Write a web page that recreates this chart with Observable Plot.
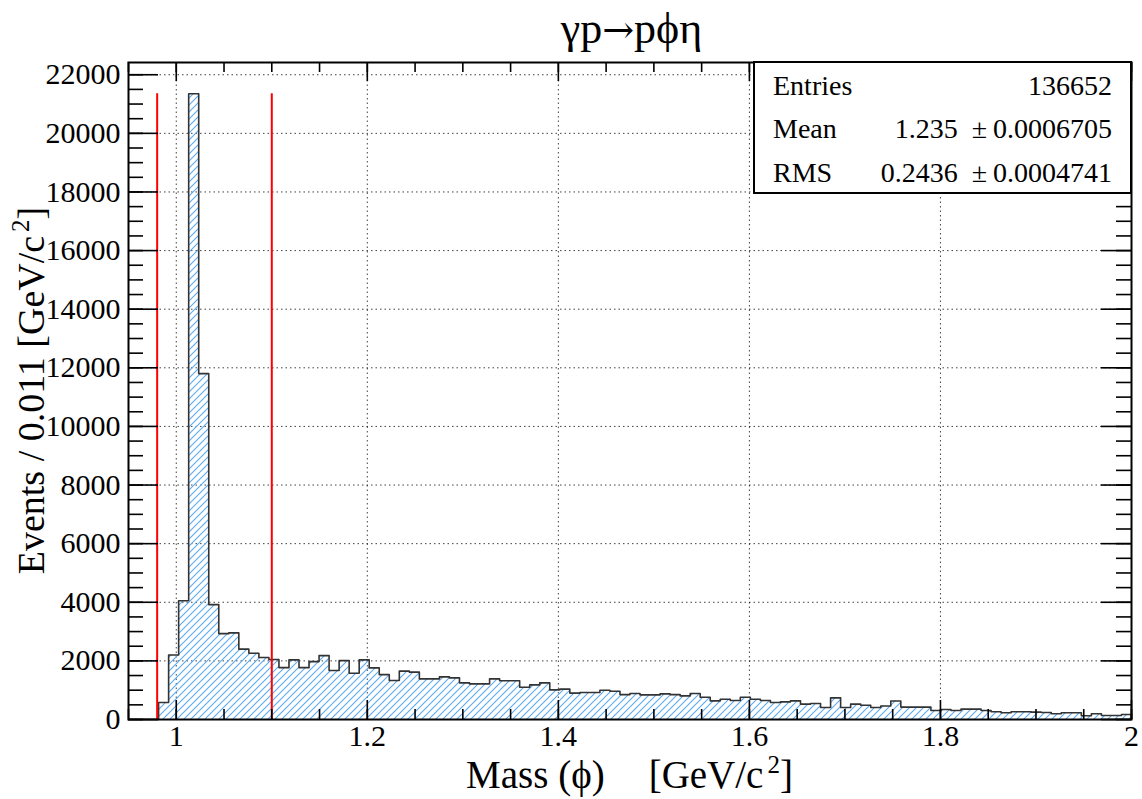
<!DOCTYPE html>
<html><head><meta charset="utf-8">
<script src="https://cdn.jsdelivr.net/npm/d3@7"></script>
<script src="https://cdn.jsdelivr.net/npm/@observablehq/plot@0.6"></script>
<style>
html,body{margin:0;padding:0;background:#fff;}
#chart svg{display:block;}
</style></head><body><div id="chart"></div>
<script>
// ---- data ----
const binLow = 0.95, binHigh = 2.0;
const counts = [0,0,0,580,2200,4050,21350,11800,3920,2930,
  2955,2400,2260,2115,2045,1770,2035,1770,1975,2180,
  1670,2010,1580,2035,1760,1530,1330,1650,1615,1385,
  1385,1455,1420,1250,1215,1215,1385,1320,1320,1100,
  1180,1250,1010,1035,900,920,920,1000,965,850,
  885,840,840,875,850,805,885,760,636,693,
  648,761,693,648,579,602,636,523,545,409,
  738,409,523,488,409,460,630,423,423,423,
  309,343,309,354,354,309,263,229,263,263,
  250,240,194,229,229,126,194,137,137,171];
const cutLines = [0.98, 1.1];
const xMajor = [1, 1.2, 1.4, 1.6, 1.8, 2];
const xTickLabels = ["1", "1.2", "1.4", "1.6", "1.8", "2"];
const yMajor = [0,2000,4000,6000,8000,10000,12000,14000,16000,18000,20000,22000];
const yTickLabels = yMajor.map(String);
const statsLabels = ["Entries", "Mean", "RMS"];
const statsMain = ["136652", "1.235", "0.2436"];
const statsErr = [null, "0.0006705", "0.0004741"];

// ---- layout ----
const W = 1142, H = 799;
const M = {top: 62, right: 11, bottom: 80, left: 128};
const fw = W - M.left - M.right, fh = H - M.top - M.bottom;
const yMax = d3.max(counts) * 1.05;
const FONT = "'Liberation Serif', 'Times New Roman', serif";

const nb = counts.length, bw = (binHigh - binLow) / nb;
const outline = counts.map((c, i) => ({x: binLow + i * bw, y: c}));
outline.push({x: binHigh, y: counts[nb - 1]}, {x: binHigh, y: 0});
const peak = d3.max(counts);
const xMinor = d3.range(0, 22).map(i => +(binLow + i * 0.05).toFixed(3)).filter(d => d <= binHigh);
const yMinor = d3.range(0, 45).map(i => i * 500);

const chart = Plot.plot({
  width: W, height: H,
  marginTop: M.top, marginRight: M.right, marginBottom: M.bottom, marginLeft: M.left,
  x: {domain: [binLow, binHigh], axis: null},
  y: {domain: [0, yMax], axis: null},
  style: {fontFamily: FONT, background: "white", color: "black"},
  marks: [
    Plot.ruleY(yMajor.filter(d => d > 0), {y: d => d, stroke: "#000", strokeOpacity: 0.75, strokeDasharray: "1.5,3", strokeWidth: 1}),
    Plot.ruleX(xMajor.filter(d => d < binHigh), {x: d => d, stroke: "#000", strokeOpacity: 0.75, strokeDasharray: "1.5,3", strokeWidth: 1}),
    Plot.areaY(outline, {x: "x", y: "y", curve: "step-after", fill: "url(#hatch)"}),
    Plot.line(outline, {x: "x", y: "y", curve: "step-after", stroke: "#333", strokeWidth: 1.6}),
    Plot.ruleX(cutLines, {x: d => d, y1: 0, y2: peak, stroke: "#ff0000", strokeWidth: 2}),
    // ticks (inside the frame, ROOT style)
    Plot.tickY(yMajor, {y: d => d, insetRight: fw - 30, stroke: "#000", strokeWidth: 1.6}),
    Plot.tickY(yMinor, {y: d => d, insetRight: fw - 15, stroke: "#000", strokeWidth: 1.6}),
    Plot.tickY(yMajor, {y: d => d, insetLeft: fw - 30, stroke: "#000", strokeWidth: 1.6}),
    Plot.tickY(yMinor, {y: d => d, insetLeft: fw - 15, stroke: "#000", strokeWidth: 1.6}),
    Plot.tickX(xMajor, {x: d => d, insetTop: fh - 19, stroke: "#000", strokeWidth: 1.6}),
    Plot.tickX(xMinor, {x: d => d, insetTop: fh - 10, stroke: "#000", strokeWidth: 1.6}),
    Plot.tickX(xMajor, {x: d => d, insetBottom: fh - 19, stroke: "#000", strokeWidth: 1.6}),
    Plot.tickX(xMinor, {x: d => d, insetBottom: fh - 10, stroke: "#000", strokeWidth: 1.6}),
    Plot.frame({stroke: "#000", strokeWidth: 2}),
    // tick labels
    Plot.text(yMajor, {y: d => d, text: (d, i) => yTickLabels[i], frameAnchor: "left", dx: -8, textAnchor: "end", fontSize: 30, fill: "#000"}),
    Plot.text(xMajor, {x: d => d, text: (d, i) => xTickLabels[i], frameAnchor: "bottom", dy: 26, fontSize: 30, fill: "#000"})
  ]
});

document.getElementById("chart").appendChild(chart);
const svg = d3.select(chart);

// hatch pattern (ROOT fill style 3004-like)
const defs = svg.insert("defs", ":first-child");
const pat = defs.append("pattern").attr("id", "hatch").attr("patternUnits", "userSpaceOnUse")
  .attr("width", 7).attr("height", 7);
pat.append("path").attr("d", "M-2,2 L2,-2 M0,7 L7,0 M5,9 L9,5")
  .attr("stroke", "#5aa9f4").attr("stroke-width", 1.1).attr("fill", "none");

// title
const tt = svg.append("text").attr("x", M.left + fw / 2 + 2).attr("y", 43).attr("text-anchor", "middle")
  .attr("font-family", FONT).attr("font-size", 44);
tt.append("tspan").text("\u03b3p");
tt.append("tspan").attr("font-family", "'DejaVu Serif', serif").attr("font-size", 38).text("\u2192");
tt.append("tspan").text("p\u03d5\u03b7");

// x axis title
const xt = svg.append("text").attr("x", M.left + fw / 2).attr("y", 788).attr("text-anchor", "middle")
  .attr("font-family", FONT).attr("font-size", 39);
xt.append("tspan").text("Mass (\u03d5)");
xt.append("tspan").attr("dx", 44).text("[GeV/c");
xt.append("tspan").attr("dx", 4).attr("dy", -15).attr("font-size", 25).text("2");
xt.append("tspan").attr("dy", 15).text("]");

// y axis title
const yt = svg.append("text").attr("transform", `translate(44,${M.top + fh / 2}) rotate(-90)`)
  .attr("text-anchor", "middle").attr("font-family", FONT).attr("font-size", 38);
yt.append("tspan").text("Events / 0.011 [GeV/c");
yt.append("tspan").attr("dx", 4).attr("dy", -15).attr("font-size", 25).text("2");
yt.append("tspan").attr("dy", 15).text("]");

// stats box
const bx = 754, by = M.top, bwid = W - M.right - bx, bh = 131;
svg.append("rect").attr("x", bx).attr("y", by).attr("width", bwid).attr("height", bh)
  .attr("fill", "white").attr("stroke", "#000").attr("stroke-width", 2);
statsLabels.forEach((s, i) => {
  const yy = by + 33 + i * 43.3;
  svg.append("text").attr("x", bx + 19).attr("y", yy).attr("text-anchor", "start")
    .attr("font-family", FONT).attr("font-size", 28).text(s);
  const v = svg.append("text").attr("x", bx + bwid - 19).attr("y", yy).attr("text-anchor", "end")
    .attr("font-family", FONT).attr("font-size", 28);
  v.append("tspan").text(statsMain[i]);
  if (statsErr[i]) {
    v.append("tspan").attr("dx", 14).text("\u00b1");
    v.append("tspan").attr("dx", 6).text(statsErr[i]);
  }
});
</script>
</body></html>
